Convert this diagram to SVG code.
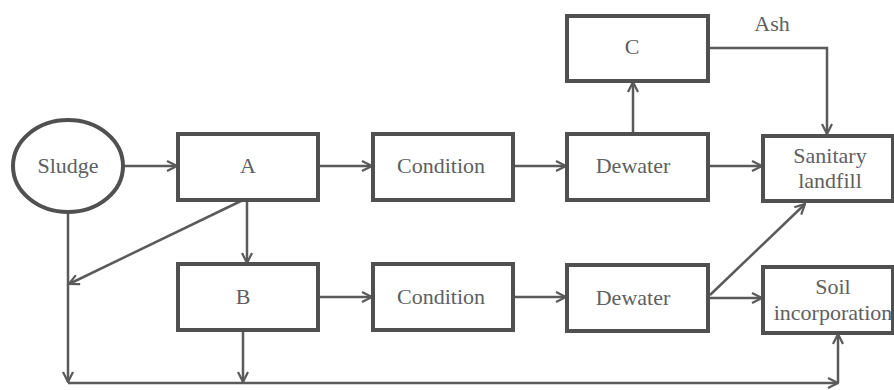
<svg xmlns="http://www.w3.org/2000/svg" width="894" height="390" viewBox="0 0 894 390">
<defs>
<style>
.box{fill:#fff;stroke:#505050;stroke-width:4}
.t{font-family:'Liberation Serif','DejaVu Serif',serif;font-size:22px;fill:#606060;text-anchor:middle}
.c{fill:none;stroke:#5a5a5a;stroke-width:2.5}
.a{marker-end:url(#ah)}
</style>
<marker id="ah" viewBox="0 0 12 12" refX="11" refY="6" markerWidth="12" markerHeight="12" markerUnits="userSpaceOnUse" orient="auto">
<path d="M1,1 L11,6 L1,11" fill="none" stroke="#5a5a5a" stroke-width="2.2"/>
</marker>
</defs>
<rect width="894" height="390" fill="#fff"/>
<g id="connectors">
<path class="c a" d="M123,166 H177"/>
<path class="c a" d="M318,166 H372"/>
<path class="c a" d="M513,166 H566"/>
<path class="c a" d="M708,166 H762"/>
<path class="c a" d="M633,133 V82"/>
<path class="c a" d="M708,48 H827 V134"/>
<path class="c a" d="M247,200 V263"/>
<path class="c a" d="M243,200 L69,284"/>
<path class="c a" d="M68,212 V382"/>
<path class="c a" d="M318,297 H372"/>
<path class="c a" d="M513,297 H566"/>
<path class="c a" d="M710,298 H762"/>
<path class="c a" d="M710,295 L805,204"/>
<path class="c a" d="M243,331 V382"/>
<path class="c a" d="M68,383 H838"/>
<path class="c a" d="M838,383 V334"/>
</g>
<g id="sludge"><ellipse class="box" cx="68" cy="166" rx="55" ry="46"/><text class="t" x="68" y="173">Sludge</text></g>
<g id="A"><rect class="box" x="178" y="134" width="140" height="66"/><text class="t" x="248" y="173">A</text></g>
<g id="condition1"><rect class="box" x="373" y="134" width="140" height="66"/><text class="t" x="441" y="173">Condition</text></g>
<g id="dewater1"><rect class="box" x="567" y="134" width="141" height="66"/><text class="t" x="633" y="173">Dewater</text></g>
<g id="C"><rect class="box" x="567" y="16" width="141" height="65"/><text class="t" x="632" y="54">C</text></g>
<text class="t" x="772" y="31">Ash</text>
<g id="landfill"><rect class="box" x="763" y="136" width="130" height="65"/><text class="t" x="830" y="163">Sanitary</text><text class="t" x="830" y="188">landfill</text></g>
<g id="B"><rect class="box" x="178" y="264" width="140" height="66"/><text class="t" x="243" y="304">B</text></g>
<g id="condition2"><rect class="box" x="373" y="264" width="140" height="66"/><text class="t" x="441" y="304">Condition</text></g>
<g id="dewater2"><rect class="box" x="567" y="265" width="141" height="66"/><text class="t" x="633" y="305">Dewater</text></g>
<g id="soil"><rect class="box" x="763" y="267" width="130" height="66"/><text class="t" x="833" y="294">Soil</text><text class="t" x="833" y="320">incorporation</text></g>
</svg>
